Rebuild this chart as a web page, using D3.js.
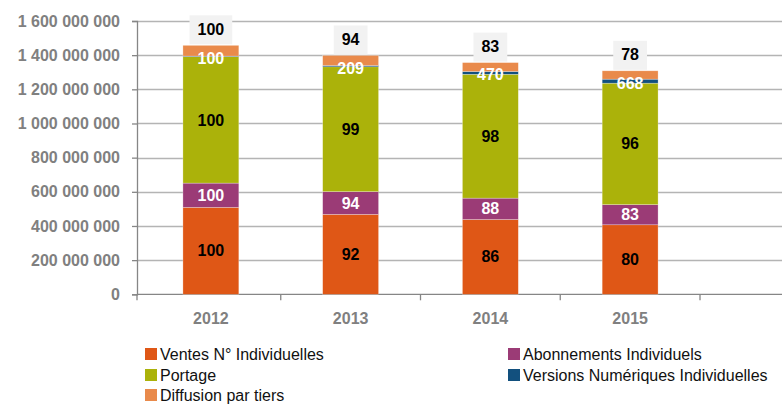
<!DOCTYPE html>
<html>
<head>
<meta charset="utf-8">
<script src="https://cdn.jsdelivr.net/npm/d3@7"></script>
<style>
  html, body { margin: 0; padding: 0; background: #fff; }
  svg { display: block; }
  text { font-family: "Liberation Sans", Arial, sans-serif; }
</style>
</head>
<body>
<svg id="chart" width="782" height="404"></svg>
<script>
// ---- Data ----
const years = ["2012", "2013", "2014", "2015"];
const seriesNames = ["Ventes N° Individuelles", "Abonnements Individuels", "Portage", "Versions Numériques Individuelles", "Diffusion par tiers"];
const ventes      = [509e6, 468e6, 438e6, 407e6];
const abonnements = [142e6, 133e6, 125e6, 118e6];
const portage     = [740e6, 731e6, 725e6, 711e6];
const numeriques  = [3.5e6, 7.3e6, 16.5e6, 23.4e6];
const diffusion   = [63e6, 59e6, 52e6, 49e6];
// index labels (base 100 in 2012)
const idxVentes      = [100, 92, 86, 80];
const idxAbonnements = [100, 94, 88, 83];
const idxPortage     = [100, 99, 98, 96];
const idxNumeriques  = [100, 209, 470, 668];
const idxDiffusion   = [100, 94, 83, 78];
const yTicks = [0, 2e8, 4e8, 6e8, 8e8, 10e8, 12e8, 14e8, 16e8];

// ---- Setup ----
const colors = ["#DF5716", "#9B3B76", "#ABB20A", "#12507E", "#E98A4B"];
const labelColors = ["#000", "#fff", "#000", "#fff", "#000"];
const valuesBySeries = [ventes, abonnements, portage, numeriques, diffusion];
const idxBySeries = [idxVentes, idxAbonnements, idxPortage, idxNumeriques, idxDiffusion];

const rows = years.map((y, i) => {
  const r = { year: y };
  seriesNames.forEach((s, k) => r[s] = valuesBySeries[k][i]);
  return r;
});
const stacked = d3.stack().keys(seriesNames)(rows);

const svg = d3.select("#chart");
const axisX = 137, plotRight = 782;
const y = d3.scaleLinear().domain([0, 1.6e9]).range([294.3, 21]);
const x = d3.scaleBand().domain(years).range([141, 700]).paddingInner(0.6).paddingOuter(0.3);

const locale = d3.formatLocale({ thousands: " ", grouping: [3], decimal: ",", currency: ["", ""] });
const fmt = locale.format(",");

// gridlines
svg.append("g").selectAll("line").data(yTicks.filter(d => d > 0)).join("line")
  .attr("x1", axisX).attr("x2", plotRight)
  .attr("y1", d => Math.round(y(d)) + 0.5).attr("y2", d => Math.round(y(d)) + 0.5)
  .attr("stroke", "#b4b4b4").attr("stroke-width", 1.3);

// y axis
const yAxis = d3.axisLeft(y).tickValues(yTicks).tickFormat(fmt).tickSize(5).tickPadding(12);
const gy = svg.append("g").attr("transform", `translate(${axisX},0)`).call(yAxis);
gy.select(".domain").attr("stroke", "#868686").attr("stroke-width", 1.3);
gy.selectAll(".tick line").attr("stroke", "#868686").attr("stroke-width", 1.3);
gy.selectAll(".tick text").attr("fill", "#808080").style("font-size", "16px").style("font-weight", "bold")
  .style("font-family", "'Liberation Sans', Arial, sans-serif");

// x axis baseline + category ticks
svg.append("line").attr("x1", axisX).attr("x2", plotRight)
  .attr("y1", y(0)).attr("y2", y(0)).attr("stroke", "#868686").attr("stroke-width", 1.3);
const step = x.step();
const boundaries = years.map((d, i) => x(d) - x.paddingOuter() * step + (i === 0 ? 0 : 0)).slice(1)
  .map((v, i) => x(years[i + 1]) - (step - x.bandwidth()) / 2);
boundaries.push(x(years[years.length - 1]) + x.bandwidth() + (step - x.bandwidth()) / 2);
svg.append("g").selectAll("line").data(boundaries).join("line")
  .attr("x1", d => d).attr("x2", d => d).attr("y1", y(0)).attr("y2", y(0) + 6)
  .attr("stroke", "#868686").attr("stroke-width", 1.3);
svg.append("line").attr("x1", axisX).attr("x2", axisX).attr("y1", y(0)).attr("y2", y(0) + 6)
  .attr("stroke", "#868686").attr("stroke-width", 1.3);

svg.append("g").selectAll("text").data(years).join("text")
  .attr("x", d => x(d) + x.bandwidth() / 2).attr("y", 318).attr("dy", "0.35em")
  .attr("text-anchor", "middle").attr("fill", "#808080")
  .style("font-size", "16px").style("font-weight", "bold").text(d => d);

// bars
const layers = svg.append("g").selectAll("g").data(stacked).join("g")
  .attr("fill", (d, k) => colors[k]);
layers.selectAll("rect").data(d => d).join("rect")
  .attr("x", d => x(d.data.year)).attr("width", x.bandwidth())
  .attr("y", d => y(d[1])).attr("height", d => y(d[0]) - y(d[1]))
  .attr("stroke", "rgba(255,255,255,0.45)").attr("stroke-width", 0.6);

// labels
const labelG = svg.append("g");
stacked.forEach((layer, k) => {
  layer.forEach((d, i) => {
    const cx = x(d.data.year) + x.bandwidth() / 2;
    const txt = String(idxBySeries[k][i]);
    if (k === 4) {
      const top = y(d[1]);
      const t = labelG.append("text").attr("x", cx).attr("y", top - 16).attr("dy", "0.35em")
        .attr("text-anchor", "middle").attr("fill", "#000")
        .style("font-size", "16px").style("font-weight", "bold").text(txt);
      const w = t.node().getComputedTextLength();
      labelG.insert("rect", () => t.node())
        .attr("x", cx - w / 2 - 8).attr("width", w + 16)
        .attr("y", top - 30).attr("height", 29).attr("fill", "#f2f2f2");
    } else {
      let cy = (y(d[0]) + y(d[1])) / 2;
      if (k === 3) cy += 2;
      labelG.append("text").attr("x", cx).attr("y", cy).attr("dy", "0.35em")
        .attr("text-anchor", "middle").attr("fill", labelColors[k])
        .style("font-size", "16px").style("font-weight", "bold").text(txt);
    }
  });
});

// legend
const legendItems = [
  { k: 0, x: 145, y: 354 },
  { k: 2, x: 145, y: 375 },
  { k: 4, x: 145, y: 395 },
  { k: 1, x: 508, y: 354 },
  { k: 3, x: 508, y: 375 }
];
const lg = svg.append("g").selectAll("g").data(legendItems).join("g")
  .attr("transform", d => `translate(${d.x},${d.y})`);
lg.append("rect").attr("x", 0).attr("y", -6).attr("width", 12).attr("height", 12)
  .attr("fill", d => colors[d.k]);
lg.append("text").attr("x", 15).attr("y", 0).attr("dy", "0.35em")
  .attr("fill", "#111").style("font-size", "16px").text(d => seriesNames[d.k]);
</script>
</body>
</html>
